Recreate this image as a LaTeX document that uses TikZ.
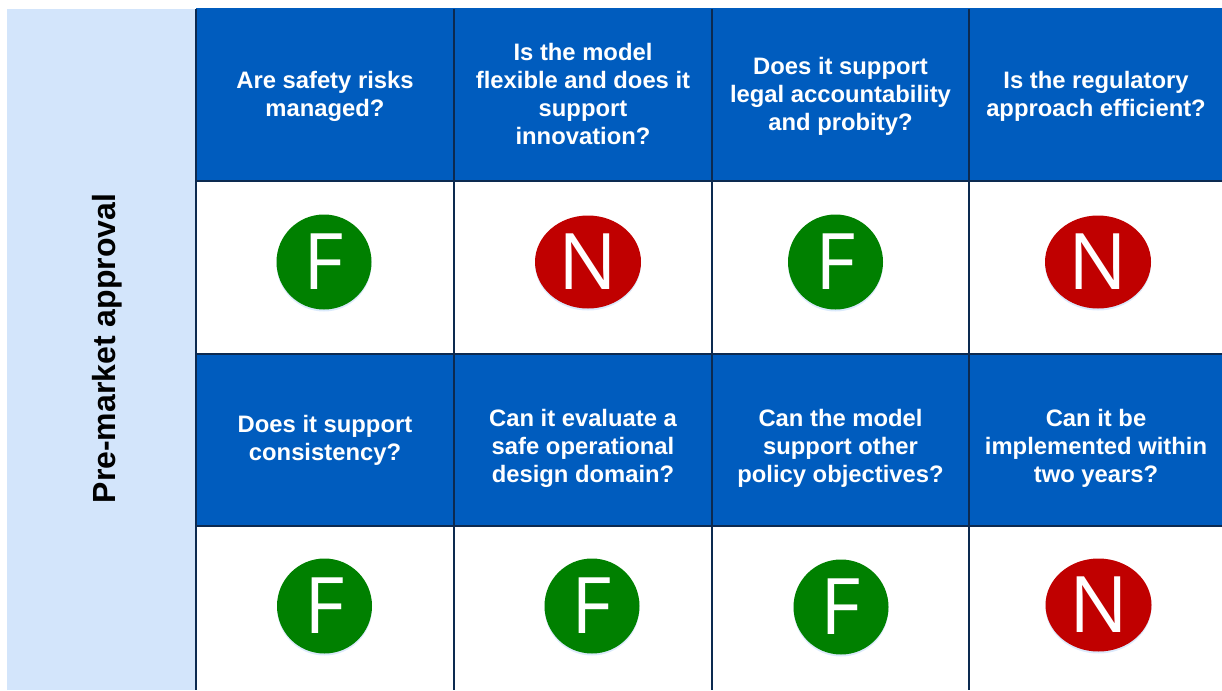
\documentclass[tikz,border=0pt]{standalone}
\usepackage{fontspec}
\setmainfont{Liberation Sans}
\newfontfamily\markfont{Open Sans}
\usetikzlibrary{shapes.geometric,shadows}

\definecolor{headblue}{RGB}{0,92,190}
\definecolor{bandblue}{RGB}{211,229,251}
\definecolor{gridline}{RGB}{12,42,80}
\definecolor{markgreen}{RGB}{0,128,0}
\definecolor{markred}{RGB}{192,0,0}

\tikzset{
  question/.style={text=white, align=center, inner sep=0pt,
    font=\fontsize{23.8}{28}\selectfont\bfseries},
  markbase/.style={inner sep=0pt, text=white,
    font=\markfont\fontsize{78}{78}\selectfont,
    drop shadow={shadow xshift=0pt, shadow yshift=-2pt, fill=bandblue, opacity=0.8}},
  markF/.style={markbase, circle, fill=markgreen, minimum size=95pt},
  markN/.style={markbase, ellipse, fill=markred, minimum width=106pt, minimum height=93pt},
}

\begin{document}
\begin{tikzpicture}[x=1pt,y=-1pt]
\useasboundingbox (0,0) rectangle (1222,690);
% band and cell backgrounds
\fill[bandblue] (7,9) rectangle (196,690);
\fill[headblue] (196,8) rectangle (1222,181);
\fill[headblue] (196,354) rectangle (1222,526);
% grid
\draw[gridline, line width=1.8pt] (196,9) -- (196,690);
\draw[gridline, line width=1.8pt] (454,9) -- (454,690);
\draw[gridline, line width=1.8pt] (712,9) -- (712,690);
\draw[gridline, line width=1.8pt] (969,9) -- (969,690);
\draw[gridline, line width=1.8pt] (196,181) -- (1222,181);
\draw[gridline, line width=1.8pt] (196,354) -- (1222,354);
\draw[gridline, line width=1.8pt] (196,526) -- (1222,526);
% stage label
\node[rotate=90, inner sep=0pt, font=\fontsize{32}{32}\selectfont\bfseries] (stage) at (107.5,348.5) {Pre-market approval};
% questions, first row
\node[question] (qsafety) at (325,96) {Are safety risks\\managed?};
\node[question] (qflex) at (583,94) {Is the model\\flexible and does it\\support\\innovation?};
\node[question] (qlegal) at (840.5,96) {Does it support\\legal accountability\\and probity?};
\node[question] (qeff) at (1096,96) {Is the regulatory\\approach efficient?};
% questions, second row
\node[question] (qcons) at (325,440) {Does it support\\consistency?};
\node[question] (qodd) at (583,448) {Can it evaluate a\\safe operational\\design domain?};
\node[question] (qpolicy) at (840.5,448) {Can the model\\support other\\policy objectives?};
\node[question] (qtime) at (1096,448) {Can it be\\implemented within\\two years?};
% ratings
\node[markF] (rsafety) at (324,262) {F};
\node[markN] (rflex) at (588,262) {N};
\node[markF] (rlegal) at (835.5,262) {F};
\node[markN] (reff) at (1098,262) {N};
\node[markF] (rcons) at (324.5,606) {F};
\node[markF] (rodd) at (592,606) {F};
\node[markF] (rpolicy) at (841,607) {F};
\node[markN] (rtime) at (1098.5,605) {N};
\end{tikzpicture}
\end{document}
